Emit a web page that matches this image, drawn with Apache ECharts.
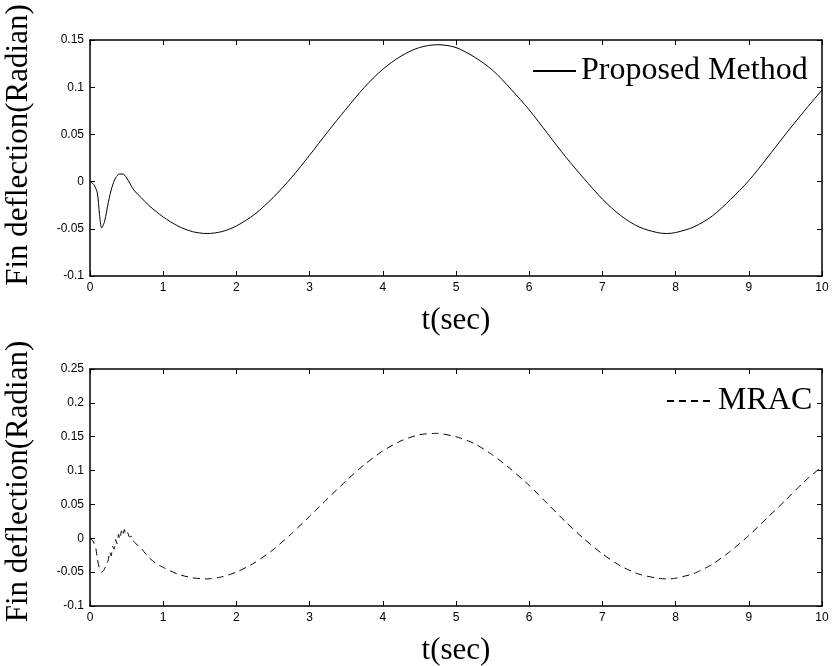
<!DOCTYPE html>
<html>
<head>
<meta charset="utf-8">
<script src="https://cdn.jsdelivr.net/npm/echarts@6/dist/echarts.min.js"></script>
<style>
html,body{margin:0;padding:0;background:#fff;}
#chart{width:834px;height:666px;}
</style>
</head>
<body>
<div id="chart"></div>
<script>
// ---- Data ----
var xTicks = [0,1,2,3,4,5,6,7,8,9,10];
var xLabel = 't(sec)';
var yLabel = 'Fin deflection(Radian)';

var topName = 'Proposed Method';
var topT = [0,0.05,0.1,0.13,0.16,0.2,0.25,0.3,0.35,0.4,0.45,0.5,0.6,0.7,0.8,0.9,1.0,1.2,1.4,1.6,1.8,2.0,
  2.25,2.5,2.75,3.0,3.25,3.5,3.75,4.0,4.25,4.5,4.75,5.0,5.25,5.5,5.75,6.0,6.25,6.5,6.75,7.0,7.25,7.5,7.75,7.875,8.0,
  8.25,8.5,8.75,9.0,9.25,9.5,9.75,10.0];
var topY = [0,-0.003,-0.012,-0.035,-0.049,-0.042,-0.022,-0.006,0.004,0.008,0.008,0.004,-0.009,-0.017,-0.025,-0.0315,-0.0375,-0.047,-0.053,-0.055,-0.053,-0.047,
  -0.0346,-0.017,0.004,0.028,0.053,0.077,0.100,0.119,0.133,0.142,0.145,0.142,0.132,0.118,0.098,0.076,0.051,0.026,0.003,-0.0185,-0.036,-0.048,-0.054,-0.055,-0.054,
  -0.048,-0.0365,-0.019,0.001,0.025,0.050,0.074,0.097];

var botName = 'MRAC';
var botT = [0,0.04,0.08,0.1,0.13,0.16,0.19,0.22,0.25,0.27,0.29,0.31,0.33,0.35,0.37,0.39,0.41,0.43,0.45,0.47,0.49,0.51,0.54,0.57,0.6,0.7,0.8,0.9,1.0,1.2,1.4,1.6,1.8,2.0,
  2.25,2.5,2.75,3.0,3.25,3.5,3.75,4.0,4.25,4.5,4.75,5.0,5.25,5.5,5.75,6.0,6.25,6.5,6.75,7.0,7.25,7.5,7.75,7.875,8.0,
  8.25,8.5,8.75,9.0,9.25,9.5,9.75,10.0];
var botY = [0,-0.004,-0.015,-0.03,-0.045,-0.05,-0.047,-0.04,-0.032,-0.02,-0.026,-0.012,-0.016,-0.002,-0.008,0.006,-0.001,0.011,0.004,0.013,0.006,0.009,0.002,0.003,-0.005,-0.015,-0.028,-0.037,-0.043,-0.053,-0.0585,-0.06,-0.057,-0.05,
  -0.036,-0.017,0.0065,0.0325,0.059,0.085,0.109,0.129,0.144,0.153,0.155,0.150,0.140,0.123,0.102,0.078,0.051,0.024,-0.001,-0.023,-0.041,-0.053,-0.059,-0.06,-0.059,
  -0.052,-0.0385,-0.019,0.004,0.030,0.056,0.083,0.106];

var topYRange = {min:-0.1, max:0.15, interval:0.05};
var botYRange = {min:-0.1, max:0.25, interval:0.05};

// ---- Build option ----
function pairs(t, y){ return t.map(function(v,i){ return [v, y[i]]; }); }
var fmtY = function(v){ return String(parseFloat(v.toFixed(2))); };
var tickFont = {fontFamily:'Liberation Sans, Arial, sans-serif', fontSize:12, color:'#000'};
var serif = 'Liberation Serif, Times New Roman, serif';
var axisLine = {show:true, onZero:false, lineStyle:{color:'#000', width:1.5}};
var axisTick = {show:true, inside:true, length:5, lineStyle:{color:'#000', width:1}};

function xAxes(gi){
  return [
    {gridIndex:gi, type:'value', min:0, max:10, interval:1, position:'bottom',
     axisLine:axisLine, axisTick:axisTick, splitLine:{show:false},
     axisLabel:Object.assign({margin:6}, tickFont),
     name:xLabel, nameLocation:'middle', nameGap:29,
     nameTextStyle:{fontFamily:serif, fontSize:31, color:'#000'}},
    {gridIndex:gi, type:'value', min:0, max:10, interval:1, position:'top',
     axisLine:axisLine, axisTick:axisTick, splitLine:{show:false}, axisLabel:{show:false}}
  ];
}
function yAxes(gi, r, pad){
  return [
    {gridIndex:gi, type:'value', min:r.min, max:r.max, interval:r.interval, position:'left',
     axisLine:axisLine, axisTick:axisTick, splitLine:{show:false},
     axisLabel:Object.assign({margin:6, formatter:fmtY}, tickFont),
     name:yLabel, nameLocation:'middle', nameRotate:90, nameGap:56,
     nameTextStyle:{fontFamily:serif, fontSize:31, color:'#000', padding:[0,0,0,pad]}},
    {gridIndex:gi, type:'value', min:r.min, max:r.max, interval:r.interval, position:'right',
     axisLine:axisLine, axisTick:axisTick, splitLine:{show:false}, axisLabel:{show:false}}
  ];
}

var option = {
  backgroundColor:'#fff',
  animation:false,
  grid:[
    {left:90, right:12, top:40, height:236, containLabel:false, outerBoundsMode:'none'},
    {left:90, right:12, top:369, height:237, containLabel:false, outerBoundsMode:'none'}
  ],
  xAxis: xAxes(0).concat(xAxes(1)),
  yAxis: yAxes(0, topYRange, 26).concat(yAxes(1, botYRange, 12)),
  legend:[
    {data:[topName], left:532, top:55, padding:0, itemWidth:43, itemHeight:1,
     itemStyle:{opacity:0},
     textStyle:{fontFamily:serif, fontSize:32, color:'#000'}, selectedMode:false},
    {data:[botName], left:666, top:385, padding:0, itemWidth:46, itemHeight:1,
     itemStyle:{opacity:0},
     textStyle:{fontFamily:serif, fontSize:32, color:'#000'}, selectedMode:false}
  ],
  series:[
    {name:topName, type:'line', xAxisIndex:0, yAxisIndex:0, data:pairs(topT, topY),
     showSymbol:false, symbol:'none', smooth:0.3, lineStyle:{color:'#000', width:1}, itemStyle:{color:'#000'}},
    {name:botName, type:'line', xAxisIndex:2, yAxisIndex:2, data:pairs(botT, botY),
     showSymbol:false, symbol:'none', smooth:0.2, lineStyle:{color:'#000', width:1, type:[7,5]}, itemStyle:{color:'#000'}}
  ]
};
var chart = echarts.init(document.getElementById('chart'), null, {renderer:'canvas'});
chart.setOption(option);
</script>
</body>
</html>
